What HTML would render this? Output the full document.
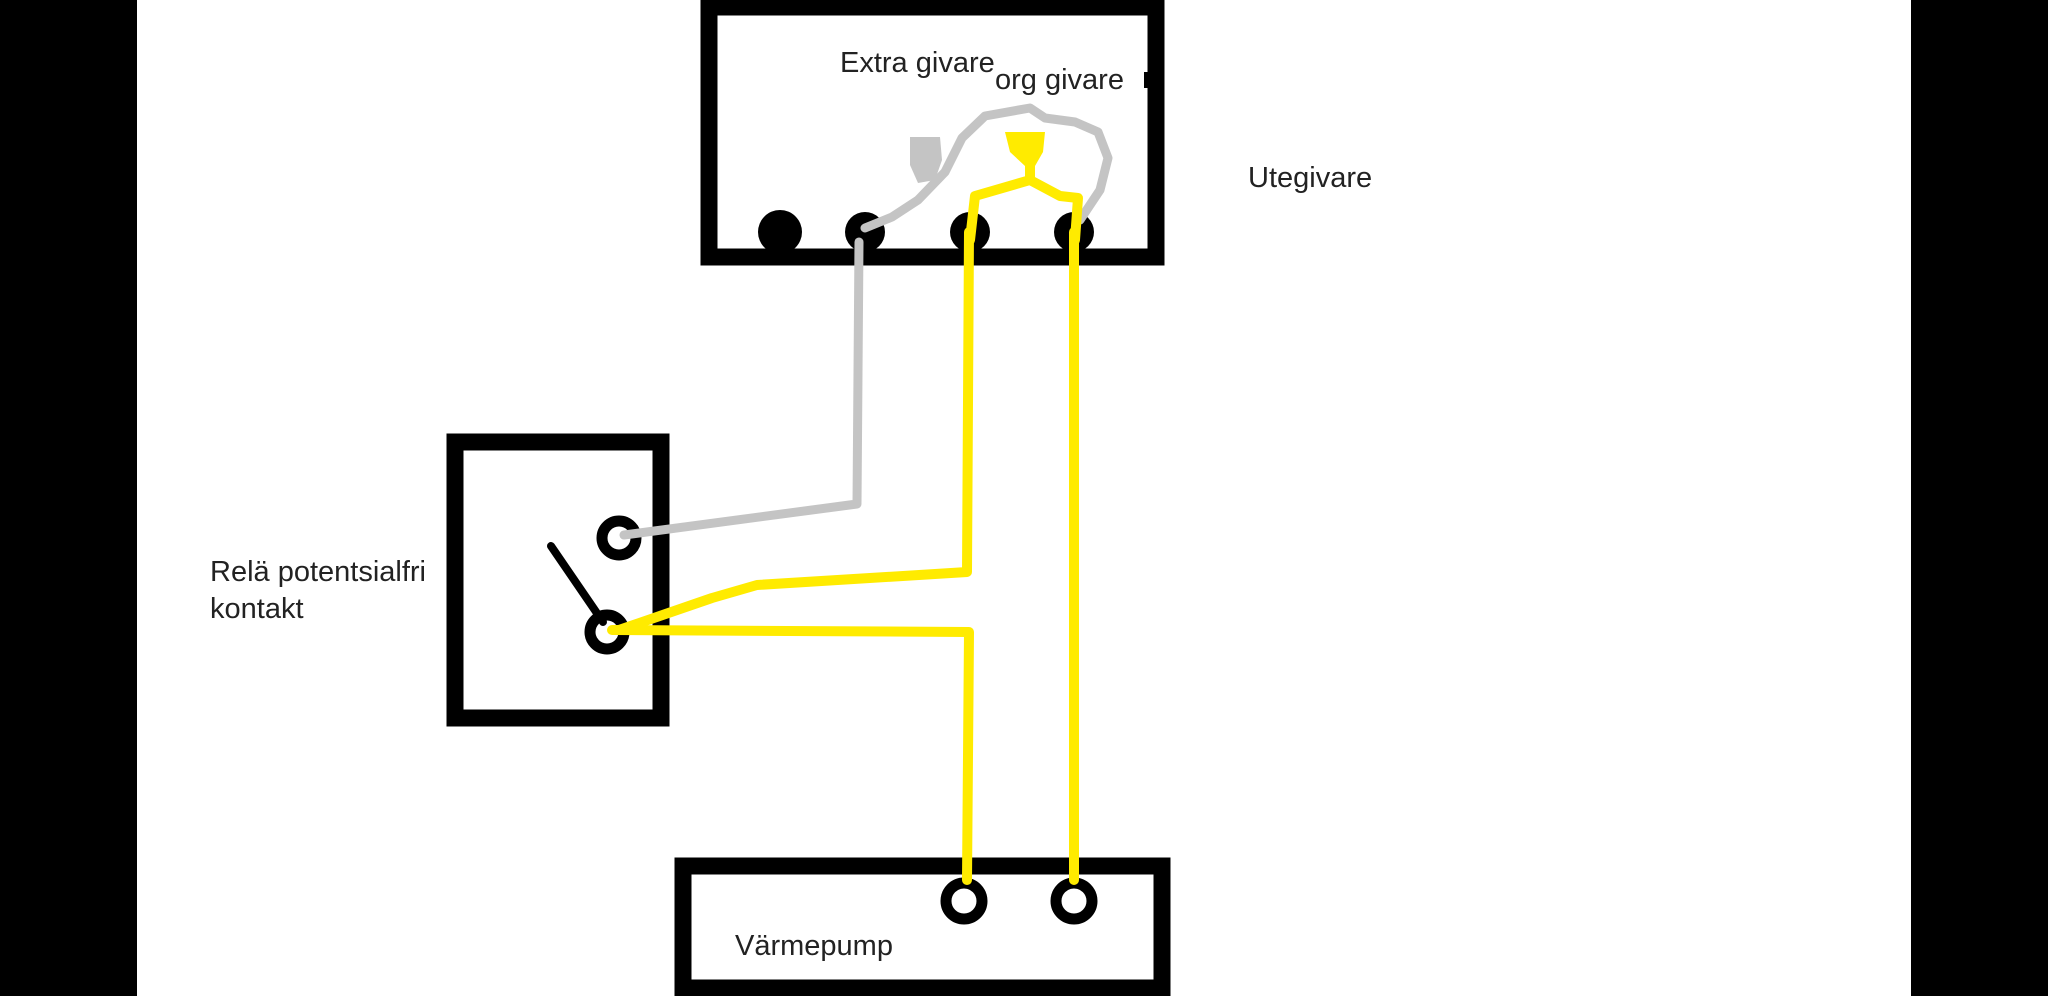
<!DOCTYPE html>
<html><head><meta charset="utf-8"><style>
html,body{margin:0;padding:0;background:#fff;}
svg{display:block;}
text{font-family:"Liberation Sans","DejaVu Sans",sans-serif;fill:#222;font-size:29px;}
</style></head><body>
<svg width="2048" height="996" viewBox="0 0 2048 996" xmlns="http://www.w3.org/2000/svg">
<rect x="0" y="0" width="2048" height="996" fill="#fff"/>
<rect x="0" y="0" width="137" height="996" fill="#000"/>
<rect x="1911" y="0" width="137" height="996" fill="#000"/>

<!-- top box -->
<rect x="709" y="7" width="447" height="250" fill="none" stroke="#000" stroke-width="17"/>
<rect x="1144" y="72" width="8" height="16" fill="#000"/>

<!-- relay box -->
<rect x="455" y="442" width="206" height="276" fill="none" stroke="#000" stroke-width="17"/>
<!-- bottom box -->
<rect x="683" y="866" width="479" height="122" fill="none" stroke="#000" stroke-width="17"/>

<!-- terminals top -->
<circle cx="780" cy="232" r="22" fill="#000"/>
<circle cx="865" cy="232" r="20" fill="#000"/>
<circle cx="970" cy="232" r="20" fill="#000"/>
<circle cx="1074" cy="232" r="20" fill="#000"/>

<!-- relay terminals -->
<circle cx="619" cy="538" r="17" fill="none" stroke="#000" stroke-width="11"/>
<circle cx="607" cy="632" r="17" fill="none" stroke="#000" stroke-width="11"/>
<line x1="551" y1="546" x2="603" y2="622" stroke="#000" stroke-width="8" stroke-linecap="round"/>

<!-- bottom terminals -->
<circle cx="964" cy="901" r="18" fill="none" stroke="#000" stroke-width="11"/>
<circle cx="1074" cy="901" r="18" fill="none" stroke="#000" stroke-width="11"/>

<!-- gray wires -->
<g fill="none" stroke="#c4c4c4" stroke-width="9" stroke-linejoin="round" stroke-linecap="round">
<polyline points="624,535 857,504 859,242"/>
<polyline points="865,228 892,217 918,200 945,172 962,138 985,116 1030,108 1045,118 1075,122 1098,132 1108,158 1100,190 1080,220"/>
</g>
<path d="M910,137 L940,137 L942,160 L935,180 L918,183 L910,165 Z" fill="#c4c4c4"/>

<!-- yellow wires -->
<g fill="none" stroke="#ffeb00" stroke-width="10" stroke-linejoin="round" stroke-linecap="round">
<polyline points="1030,150 1030,180 975,196 970,240"/>
<polyline points="1030,180 1060,196 1078,198 1075,240"/>
<polyline points="969,232 967,572 757,585 712,598 619,630"/>
<polyline points="612,630 969,632 967,880"/>
<polyline points="1074,232 1074,880"/>
</g>
<path d="M1005,132 L1045,132 L1043,152 L1035,166 L1025,166 L1010,152 Z" fill="#ffeb00"/>

<!-- labels -->
<text x="840" y="72">Extra givare</text>
<text x="995" y="89">org givare</text>
<text x="1248" y="187">Utegivare</text>
<text x="210" y="581">Relä potentsialfri</text>
<text x="210" y="618">kontakt</text>
<text x="735" y="955">Värmepump</text>
</svg>
</body></html>
